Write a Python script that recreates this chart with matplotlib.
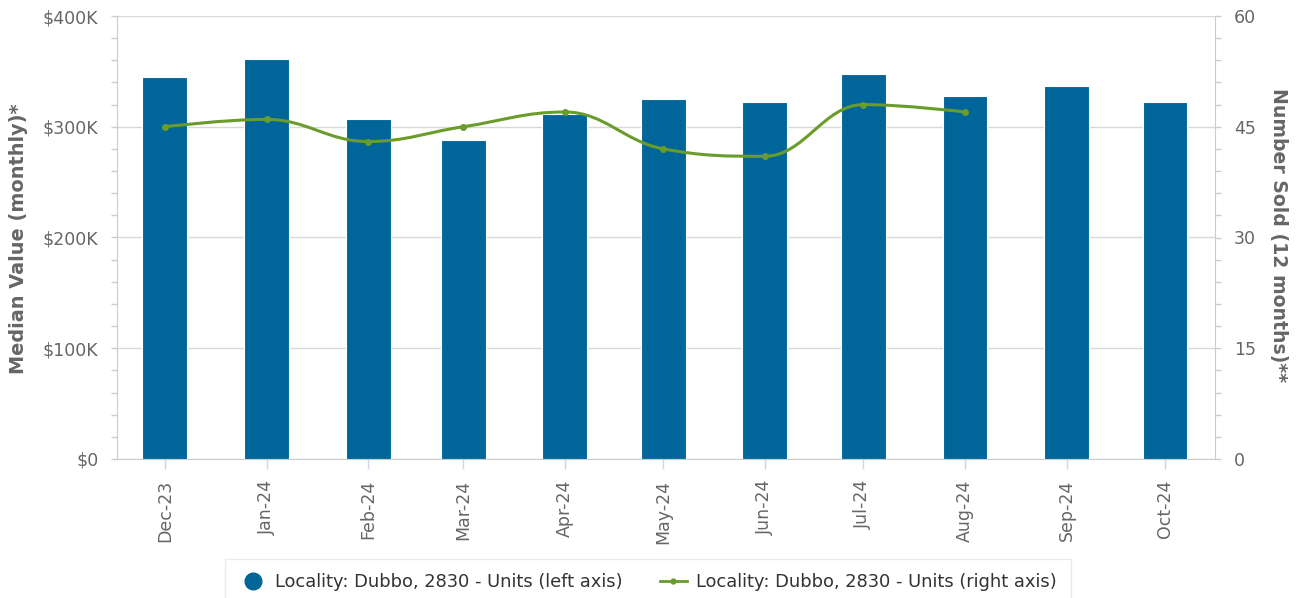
import datetime as dt
import numpy as np
import matplotlib
matplotlib.use("Agg")
import matplotlib.pyplot as plt
import matplotlib.dates as mdates
from matplotlib.lines import Line2D
from matplotlib.ticker import FuncFormatter, MultipleLocator
from matplotlib.path import Path
from matplotlib.patches import PathPatch

months = ["Dec-23", "Jan-24", "Feb-24", "Mar-24", "Apr-24", "May-24",
          "Jun-24", "Jul-24", "Aug-24", "Sep-24", "Oct-24"]
dates = [dt.date(2023, 12, 1), dt.date(2024, 1, 1), dt.date(2024, 2, 1),
         dt.date(2024, 3, 1), dt.date(2024, 4, 1), dt.date(2024, 5, 1),
         dt.date(2024, 6, 1), dt.date(2024, 7, 1), dt.date(2024, 8, 1),
         dt.date(2024, 9, 1), dt.date(2024, 10, 1)]
median_value = [345000, 361000, 307000, 288000, 311500, 325000,
                322000, 348000, 328000, 337000, 322000]
number_sold = [45, 46, 43, 45, 47, 42, 41, 48, 47, None, None]

BAR_COLOR = "#006699"
LINE_COLOR = "#6a9c2c"
GRID = "#d8d8d8"
TXT = "#666666"

plt.rcParams['font.family'] = ['DejaVu Sans']

fig = plt.figure(figsize=(13, 5.98), dpi=100)
ax = fig.add_axes([117/1300, 1 - 459/598, (1215-117)/1300, (459-16)/598])
ax2 = ax.twinx()

xnum = mdates.date2num(dates)
ax.bar(xnum, median_value, width=13.7, color=BAR_COLOR, edgecolor="white",
       linewidth=0.8, zorder=3)

# Highcharts-style spline through the available points
pts = [(x, y) for x, y in zip(xnum, number_sold) if y is not None]
sm = 1.5
den = sm + 1
verts = [pts[0]]
codes = [Path.MOVETO]
prev_right = pts[0]
for i in range(1, len(pts)):
    px, py = pts[i]
    lx, ly = pts[i-1]
    if i < len(pts) - 1:
        nx, ny = pts[i+1]
        lcx = (sm*px + lx)/den; lcy = (sm*py + ly)/den
        rcx = (sm*px + nx)/den; rcy = (sm*py + ny)/den
        if rcx != lcx:
            corr = ((rcy - lcy)*(rcx - px))/(rcx - lcx) + py - rcy
            lcy += corr; rcy += corr
            if lcy > ly and lcy > py:
                lcy = max(ly, py); rcy = 2*py - lcy
            elif lcy < ly and lcy < py:
                lcy = min(ly, py); rcy = 2*py - lcy
            if rcy > ny and rcy > py:
                rcy = max(ny, py); lcy = 2*py - rcy
            elif rcy < ny and rcy < py:
                rcy = min(ny, py); lcy = 2*py - rcy
        left = (lcx, lcy); right = (rcx, rcy)
    else:
        left = (px, py); right = (px, py)
    verts += [prev_right, left, (px, py)]
    codes += [Path.CURVE4]*3
    prev_right = right
ax2.add_patch(PathPatch(Path(verts, codes), facecolor="none",
                        edgecolor=LINE_COLOR, linewidth=2.2, zorder=4))
ax2.plot([p[0] for p in pts], [p[1] for p in pts], linestyle="none",
         marker="o", markersize=4, color=LINE_COLOR, zorder=5)

ax.set_xlim(xnum[0] - 14.6, xnum[-1] + 15.25)
ax.set_ylim(0, 400000)
ax2.set_ylim(0, 60)
ax.set_xticks(xnum)
ax.set_xticklabels(months, rotation=90)

ax.yaxis.set_major_locator(MultipleLocator(100000))
ax.yaxis.set_minor_locator(MultipleLocator(20000))
ax.yaxis.set_major_formatter(FuncFormatter(lambda v, p: "$0" if v == 0 else f"${int(v/1000)}K"))
ax2.yaxis.set_major_locator(MultipleLocator(15))
ax2.yaxis.set_minor_locator(MultipleLocator(3))

ax.grid(axis="y", which="major", color=GRID, linewidth=1, zorder=0)
ax.set_axisbelow(True)

for a in (ax, ax2):
    a.spines["top"].set_visible(False)
    a.spines["left"].set_color("#cccccc")
    a.spines["right"].set_color("#cccccc")
    a.spines["bottom"].set_color("#cccccc")
ax.spines["right"].set_visible(False)
ax2.spines["left"].set_visible(False)
ax2.spines["bottom"].set_visible(False)

TICK_FS = 12.5
for a in (ax, ax2):
    a.tick_params(axis="y", which="both", colors="#cccccc", labelcolor=TXT,
                  labelsize=TICK_FS, length=4, width=1, pad=9.5)
ax.tick_params(axis="x", colors="#ccd6eb", labelcolor=TXT, labelsize=TICK_FS,
               length=7, width=1, pad=8)

fig.text(19/1300, 1 - 239/598, "Median Value (monthly)*", fontsize=13.9,
         fontweight="bold", color=TXT, rotation=90, ha="center", va="center")
fig.text(1278/1300, 1 - 235/598, "Number Sold (12 months)**", fontsize=13.6,
         fontweight="bold", color=TXT, rotation=270, ha="center", va="center")

handles = [
    Line2D([], [], linestyle="none", marker="o", markersize=12,
           color=BAR_COLOR),
    Line2D([], [], color=LINE_COLOR, linewidth=2, marker="o", markersize=3.5),
]
labels = ["Locality: Dubbo, 2830 - Units (left axis)",
          "Locality: Dubbo, 2830 - Units (right axis)"]
leg = fig.legend(handles, labels, loc="center", ncol=2,
                 bbox_to_anchor=(648/1300, 1 - 582/598), frameon=True,
                 fontsize=12.9, labelcolor="#333333", handlelength=1.5,
                 handletextpad=0.52, columnspacing=2.07, borderpad=0.8,
                 fancybox=False)
leg.get_frame().set_edgecolor("#e6e6e6")
leg.get_frame().set_linewidth(1)

fig.savefig("out.png", dpi=100)
